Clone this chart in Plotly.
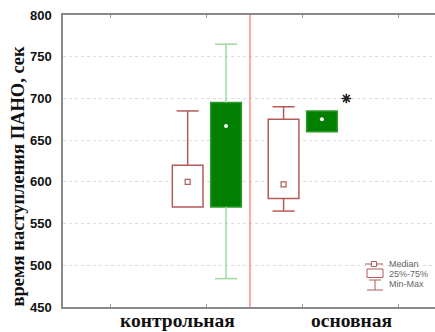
import plotly.graph_objects as go

# Groups and series
groups = ["контрольная", "основная"]
series_names = ["A", "B"]
mins = {"A": [570, 565], "B": [484, 660]}
q1s = {"A": [570, 580], "B": [570, 660]}
medians = {"A": [600, 597], "B": [667, 675]}
q3s = {"A": [620, 675], "B": [695, 685]}
maxs = {"A": [685, 690], "B": [765, 685]}
y_ticks = [450, 500, 550, 600, 650, 700, 750, 800]
star_group = 1
star_value = 700

W, H = 435, 332
ML, MR, MT, MB = 63, 0, 15, 25
PW, PH = W - ML - MR, H - MT - MB
XR = [-0.5, -0.5 + PW / 95.9]

red = "#b45a5a"
green_fill = "#007f00"
green_line = "#2e9a2e"
green_whisk = "#9fd89f"

style = {
    "A": dict(fill="white", line=red, whisk=red, off=-0.2),
    "B": dict(fill=green_fill, line=green_line, whisk=green_whisk, off=0.2),
}

fig = go.Figure()
bw = 0.32
cap = 0.115
for s in series_names:
    st = style[s]
    xs = [i + 1 + st["off"] for i in range(len(groups))]
    # whiskers
    wx, wy = [], []
    for i, x in enumerate(xs):
        if maxs[s][i] > q3s[s][i]:
            wx += [x, x, None, x - cap, x + cap, None]
            wy += [q3s[s][i], maxs[s][i], None, maxs[s][i], maxs[s][i], None]
        if mins[s][i] < q1s[s][i]:
            wx += [x, x, None, x - cap, x + cap, None]
            wy += [q1s[s][i], mins[s][i], None, mins[s][i], mins[s][i], None]
    fig.add_trace(go.Scatter(x=wx, y=wy, mode="lines",
                             line=dict(color=st["whisk"], width=1.5),
                             hoverinfo="skip", showlegend=False))
    # boxes
    fig.add_trace(go.Bar(x=xs, base=q1s[s],
                         y=[q3s[s][i] - q1s[s][i] for i in range(len(xs))],
                         width=bw, marker=dict(color=st["fill"],
                                               line=dict(color=st["line"], width=1.5)),
                         showlegend=False))
    # medians
    if s == "A":
        mk = dict(symbol="square-open", size=5, color=red, line=dict(width=1.2, color=red))
    else:
        mk = dict(symbol="circle", size=4, color="white")
    fig.add_trace(go.Scatter(x=xs, y=medians[s], mode="markers", marker=mk,
                             showlegend=False))

# significance mark
fig.add_trace(go.Scatter(x=[star_group + 1 + 0.455], y=[star_value], mode="markers",
                         marker=dict(symbol="asterisk-open", size=8, color="#222",
                                     line=dict(color="#222", width=1.6)),
                         showlegend=False))

fig.update_layout(
    width=W, height=H, margin=dict(l=ML, r=MR, t=MT, b=MB),
    plot_bgcolor="white", paper_bgcolor="white", barmode="overlay",
    xaxis=dict(range=XR, tickvals=[0, 1, 2, 3], ticktext=["", "", "", ""],
               ticks="inside", ticklen=3, tickcolor="#999", showgrid=False,
               zeroline=False, showline=True, linecolor="#8a8a8a", linewidth=1.5,
               mirror="ticks"),
    yaxis=dict(range=[450, 800], tickvals=y_ticks,
               ticktext=[f"<b>{v}</b>" for v in y_ticks], showgrid=True,
               gridcolor="#dcdcdc", griddash="dot", gridwidth=1, zeroline=False,
               showline=True, linecolor="#8a8a8a", linewidth=1.5, ticks="",
               ticklabelstandoff=7,
               tickfont=dict(family="Liberation Sans", size=13, color="#111")),
)

# divider between groups
fig.add_shape(type="line", xref="x", yref="paper", x0=1.45, x1=1.45, y0=0, y1=1,
              line=dict(color="#ff8c8c", width=1.5))

def px(x):
    return (x - ML) / PW

def py(y):
    return (H - MB - y) / PH

# axis titles
fig.add_annotation(text="<b>время наступления ПАНО, сек</b>", xref="paper", yref="paper",
                   x=px(17), y=py(176.5), textangle=-90, showarrow=False,
                   xanchor="center", yanchor="middle",
                   font=dict(family="Liberation Serif", size=18.5, color="#111"))
for gx, label in zip([177.5, 351], groups):
    fig.add_annotation(text=f"<b>{label}</b>", xref="paper", yref="paper", x=px(gx), y=py(320.5),
                       showarrow=False, xanchor="center", yanchor="middle",
                       font=dict(family="Liberation Serif", size=19.5, color="#111"))

# legend drawn by hand
lc = "#b45a5a"
fig.add_shape(type="line", xref="paper", yref="paper", x0=px(365), x1=px(383),
              y0=py(264), y1=py(264), line=dict(color=lc, width=1))
fig.add_shape(type="rect", xref="paper", yref="paper", x0=px(371.5), x1=px(376.5),
              y0=py(261.5), y1=py(266.5), line=dict(color=lc, width=1), fillcolor="white")
fig.add_shape(type="rect", xref="paper", yref="paper", x0=px(367), x1=px(383),
              y0=py(269), y1=py(277.5), line=dict(color=lc, width=1), fillcolor="white")
fig.add_shape(type="line", xref="paper", yref="paper", x0=px(369), x1=px(381),
              y0=py(280), y1=py(280), line=dict(color=lc, width=1))
fig.add_shape(type="line", xref="paper", yref="paper", x0=px(375), x1=px(375),
              y0=py(280), y1=py(290), line=dict(color=lc, width=1))
fig.add_shape(type="line", xref="paper", yref="paper", x0=px(367), x1=px(383),
              y0=py(290), y1=py(290), line=dict(color=lc, width=1))
for ty, t in zip([263.5, 273.5, 284], ["Median", "25%-75%", "Min-Max"]):
    fig.add_annotation(text=t, xref="paper", yref="paper", x=px(387), y=py(ty),
                       xanchor="left", yanchor="middle", showarrow=False,
                       font=dict(family="Liberation Sans", size=9, color="#666"))

fig.write_html("out.html")
